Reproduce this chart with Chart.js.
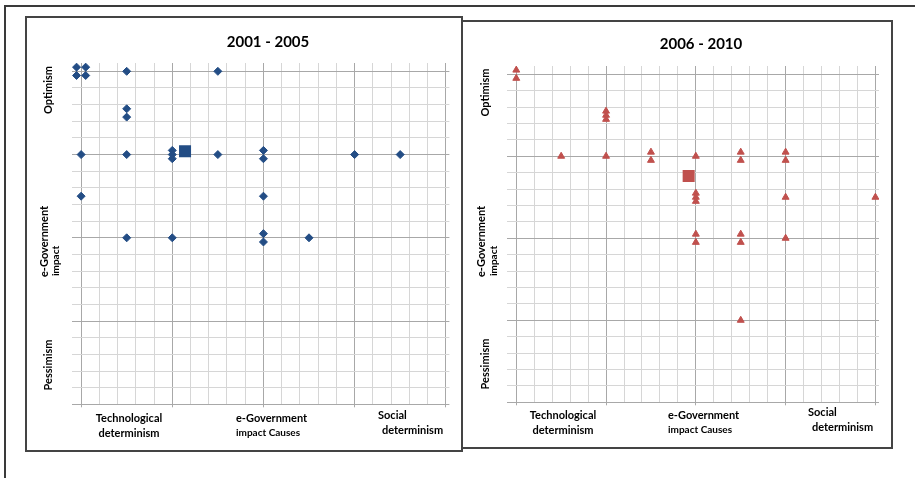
<!DOCTYPE html>
<html lang="en">
<head>
<meta charset="UTF-8">
<script src="https://cdn.jsdelivr.net/npm/chart.js@4.4.1/dist/chart.umd.min.js"></script>
<title>e-Government impact 2001-2010</title>
<style>
  body { margin:0; background:#fff; width:915px; height:478px; overflow:hidden; position:relative; }
  #frame { position:absolute; left:4px; top:5px; width:930px; height:490px; border-left:2px solid #3a3a3a; border-top:2px solid #3a3a3a; }
  .panel { position:absolute; background:#fff; border:2px solid #444; box-sizing:border-box; }
  #p1 { left:25px; top:16px; width:438px; height:436px; }
  #p2 { left:461px; top:20px; width:432px; height:429px; }
  canvas { position:absolute; }
  #c1 { left:26px; top:17px; }
  #c2 { left:462px; top:21px; }
</style>
</head>
<body>
<div id="frame"></div>
<div class="panel" id="p1"></div>
<canvas id="c1" width="436" height="434"></canvas>
<div class="panel" id="p2"></div>
<canvas id="c2" width="430" height="427"></canvas>
<script>
// 2001 - 2005 : blue diamonds
var x0105 = [-0.25, 0.25, -0.25, 0.25, 2.5, 7.5, 2.5, 2.5, 0, 2.5, 5, 5, 5, 7.5, 10, 10, 15, 17.5, 0, 10, 2.5, 5, 10, 10, 12.5];
var y0105 = [20.25, 20.25, 19.75, 19.75, 20, 20, 17.75, 17.25, 15, 15, 15.25, 15, 14.75, 15, 15.25, 14.75, 15, 15, 12.5, 12.5, 10, 10, 10.25, 9.75, 10];
var avg0105 = [5.7, 15.2];

// 2006 - 2010 : red triangles
var x0610 = [0, 0, 5, 5, 5, 2.5, 5, 7.5, 7.5, 10, 12.5, 12.5, 15, 15, 10, 10, 10, 15, 20, 10, 10, 12.5, 12.5, 15, 12.5];
var y0610 = [20.25, 19.75, 17.75, 17.5, 17.25, 15, 15, 15.25, 14.75, 15, 15.25, 14.75, 15.25, 14.75, 12.75, 12.5, 12.25, 12.5, 12.5, 10.25, 9.75, 10.25, 9.75, 10, 5];
var avg0610 = [9.6, 13.8];

var titles = ['2001 - 2005', '2006 - 2010'];
var causeLabels = [['Technological', 'determinism'], ['e-Government', 'impact Causes'], ['Social', 'determinism']];
var attitudeLabels = ['Optimism', ['e-Government', 'impact'], 'Pessimism'];
var gridTicks = [0,1,2,3,4,5,6,7,8,9,10,11,12,13,14,15,16,17,18,19,20];

var FONT = 'Lato, "Open Sans", sans-serif';

// draws the titles and the corner texts
var panelText = {
  id: 'panelText',
  afterDraw: function(chart, args, opts) {
    var ctx = chart.ctx;
    (opts.items || []).forEach(function(it) {
      ctx.save();
      ctx.font = it.font;
      ctx.fillStyle = '#000';
      ctx.textAlign = it.align || 'center';
      ctx.textBaseline = 'middle';
      ctx.translate(it.x, it.y);
      if (it.rotate) ctx.rotate(-Math.PI / 2);
      ctx.fillText(it.text, 0, 0);
      ctx.restore();
    });
  }
};

function gridColor(c) {
  return c.tick.value % 5 === 0 ? '#a8a8a8' : '#d6d6d6';
}

function makeChart(id, xs, ys, avg, color, marker, radius, pad, items) {
  var pts = xs.map(function(x, i) { return {x: x, y: ys[i]}; });
  return new Chart(document.getElementById(id).getContext('2d'), {
    type: 'scatter',
    data: {
      datasets: [
        { data: pts, pointStyle: marker, pointRadius: radius, pointHoverRadius: radius,
          backgroundColor: color, borderColor: color, borderWidth: 1 },
        { data: [{x: avg[0], y: avg[1]}], pointStyle: 'rect', pointRadius: 8.5, pointHoverRadius: 8.5,
          backgroundColor: color, borderColor: color, borderWidth: 0 }
      ]
    },
    options: {
      responsive: false,
      animation: false,
      layout: { padding: pad },
      plugins: { legend: { display: false }, tooltip: { enabled: false }, panelText: { items: items } },
      scales: {
        x: {
          type: 'linear', min: -0.5, max: 20.2,
          afterBuildTicks: function(s) { s.ticks = gridTicks.map(function(v) { return {value: v}; }); },
          ticks: { display: false },
          border: { display: false },
          grid: { color: gridColor, lineWidth: 1, drawTicks: true, tickLength: 3,
                  tickColor: function(c) { return c.tick.value % 5 === 0 ? '#a8a8a8' : 'rgba(0,0,0,0)'; } }
        },
        y: {
          type: 'linear', min: 0, max: 20.5,
          afterBuildTicks: function(s) { s.ticks = gridTicks.map(function(v) { return {value: v}; }); },
          ticks: { display: false },
          border: { display: false },
          grid: { color: gridColor, lineWidth: 1, drawTicks: false }
        }
      }
    },
    plugins: [panelText]
  });
}

function textItems(t, p) {
  var b11 = 'bold 11px ' + FONT, b10 = 'bold 10px ' + FONT;
  return [
    {text: titles[t], x: p.tx, y: p.ty, font: 'bold 15px ' + FONT},
    {text: attitudeLabels[0], x: p.ax, y: p.oy, font: b11, rotate: true},
    {text: attitudeLabels[1][0], x: p.ex, y: p.ey, font: b11, rotate: true, align: 'left'},
    {text: attitudeLabels[1][1], x: p.ix, y: p.ey - 1, font: b10, rotate: true, align: 'left'},
    {text: attitudeLabels[2], x: p.ax, y: p.py, font: b11, rotate: true},
    {text: causeLabels[0][0], x: p.c0, y: p.r1, font: b11},
    {text: causeLabels[0][1], x: p.c0, y: p.r2, font: b11},
    {text: causeLabels[1][0], x: p.c1, y: p.r1, font: b11, align: 'left'},
    {text: causeLabels[1][1], x: p.c1, y: p.r2, font: b10, align: 'left'},
    {text: causeLabels[2][0], x: p.c2, y: p.r1 - 3, font: b11, align: 'left'},
    {text: causeLabels[2][1], x: p.c2 + 4, y: p.r2 - 3, font: b11, align: 'left'}
  ];
}

makeChart('c1', x0105, y0105, avg0105, '#234d85', 'rectRot', 4, {left: 46, right: 12.6, top: 46, bottom: 43.7},
  textItems(0, {tx: 242, ty: 25, ax: 22, oy: 73, ex: 18, ix: 30, ey: 260, py: 348, c0: 103, c1: 210, c2: 352, r1: 401, r2: 416}));

makeChart('c2', x0610, y0610, avg0610, '#c0504d', 'triangle', 4, {left: 45.3, right: 13, top: 45, bottom: 42.7},
  textItems(1, {tx: 239, ty: 23, ax: 23, oy: 71.5, ex: 19, ix: 32, ey: 256, py: 343, c0: 101, c1: 206, c2: 346, r1: 394.5, r2: 409}));
</script>
</body>
</html>
